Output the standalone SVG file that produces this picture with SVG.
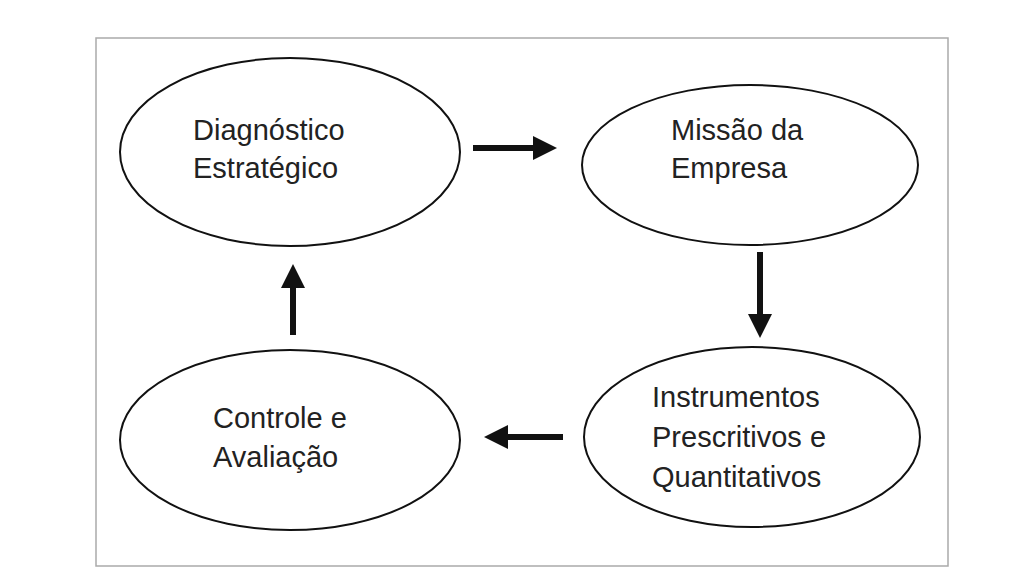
<svg xmlns="http://www.w3.org/2000/svg" width="1024" height="576" viewBox="0 0 1024 576">
<style>
.n{fill:#fff;stroke:#111;stroke-width:2}
.t{font-family:"Liberation Sans",Arial,sans-serif;font-size:29px;fill:#222}
.c{stroke:#111;stroke-width:6;fill:none}
</style>
<defs><marker id="a" markerWidth="4" markerHeight="4" refX="2" refY="2" orient="auto"><path d="M0,0L4,2L0,4z" fill="#111"/></marker></defs>
<rect width="1024" height="576" fill="#fff"/>
<rect x="96" y="38" width="852" height="528" fill="#fff" stroke="#aaa" stroke-width="1.5"/>
<g id="n1"><ellipse class="n" cx="290" cy="152" rx="170" ry="94"/><text class="t" x="193" y="140">Diagnóstico</text><text class="t" x="193" y="178">Estratégico</text></g>
<g id="n2"><ellipse class="n" cx="750" cy="165" rx="168" ry="80"/><text class="t" x="671" y="140">Missão da</text><text class="t" x="671" y="178">Empresa</text></g>
<g id="n3"><ellipse class="n" cx="752" cy="437" rx="168" ry="90"/><text class="t" x="652" y="407">Instrumentos</text><text class="t" x="652" y="447">Prescritivos e</text><text class="t" x="652" y="487">Quantitativos</text></g>
<g id="n4"><ellipse class="n" cx="290" cy="440" rx="170" ry="90"/><text class="t" x="213" y="428">Controle e</text><text class="t" x="213" y="467">Avaliação</text></g>
<g id="connectors">
<path class="c" d="M473,148H545" marker-end="url(#a)"/>
<path class="c" d="M760,252V326" marker-end="url(#a)"/>
<path class="c" d="M563,437H496" marker-end="url(#a)"/>
<path class="c" d="M293,335V276" marker-end="url(#a)"/>
</g>
</svg>
